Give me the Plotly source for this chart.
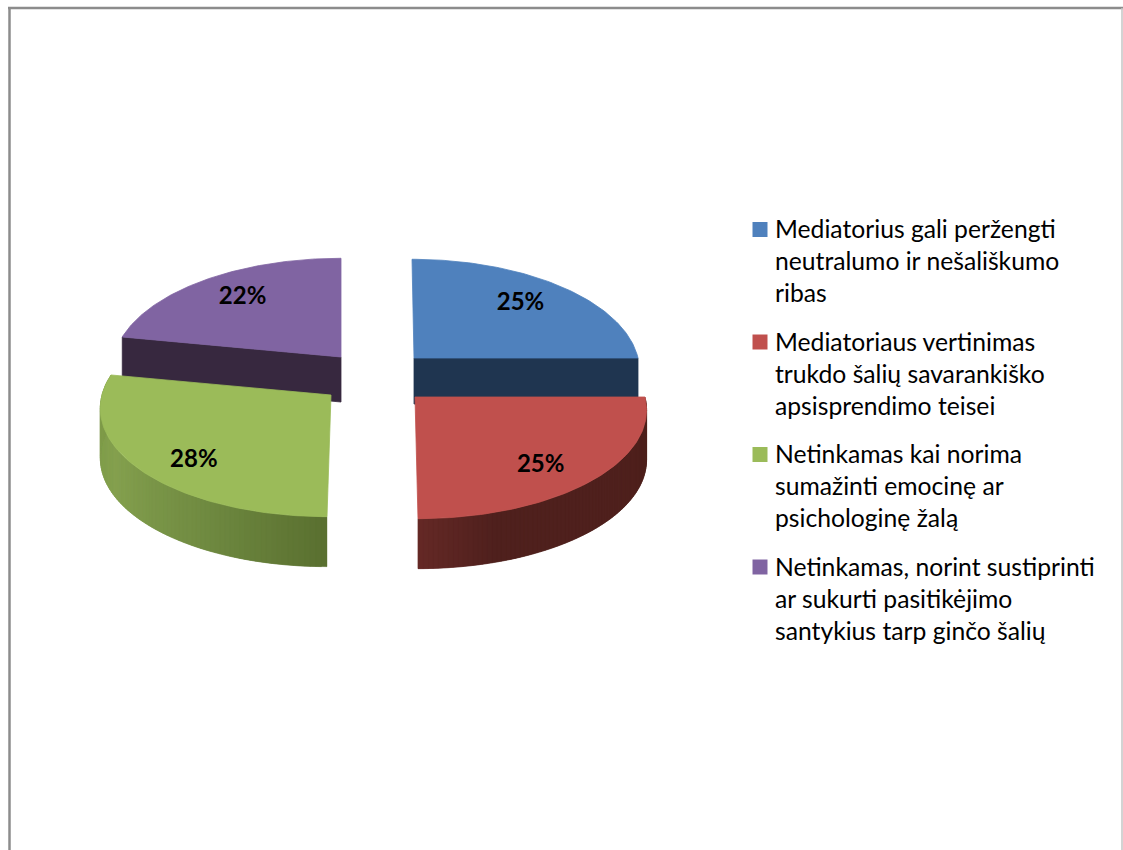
import numpy as np
import plotly.graph_objects as go

categories = [
    "Mediatorius gali peržengti<br>neutralumo ir nešališkumo<br>ribas",
    "Mediatoriaus vertinimas<br>trukdo šalių savarankiško<br>apsisprendimo teisei",
    "Netinkamas kai norima<br>sumažinti emocinę ar<br>psichologinę žalą",
    "Netinkamas, norint sustiprinti<br>ar sukurti pasitikėjimo<br>santykius tarp ginčo šalių",
]
values = [25, 25, 28, 22]
labels = ["25%", "25%", "28%", "22%"]
colors = ["#4f81bd", "#c0504d", "#9bbb59", "#8064a2"]

# 3D projection settings (pixel scale of the axes)
apex = [(414, 358), (415, 397), (331, 395), (341, 357)]
rx = [224, 230, 229, 227]
ry = [109, 109, 109, 109]
shear = [2, 3, -4, 0]
depth = [46, 50, 50, 45]
wall_color = ["#1f3550", None, None, "#37283f"]
PERSP = 0.104
label_shift = [(-5, 1), (-5, 8), (4, 11), (4, 0)]
LEGEND_SWATCH_X, LEGEND_TEXT_X, LEGEND_TOP, LEGEND_STEP = 760, 773.5, 229.5, 112.5
LEGEND_LINE = 31

edges = np.concatenate([[0], np.cumsum(values)]) / sum(values) * 2 * np.pi


def project(i, theta, z=0.0, f=1.0):
    theta = np.asarray(theta, dtype=float)
    w = 1 + PERSP * f * np.cos(theta)
    x = apex[i][0] + f * rx[i] * np.sin(theta) / w - shear[i] * np.cos(theta) * f
    y = apex[i][1] - f * ry[i] * np.cos(theta) / w + z
    return x, y


def poly(xs, ys, color, lw=0.8):
    return go.Scatter(
        x=list(xs) + [xs[0]], y=list(ys) + [ys[0]], mode="lines", fill="toself",
        fillcolor=color, line=dict(color=color, width=lw),
        hoverinfo="skip", showlegend=False,
    )


def mix(c1, c2, t):
    a = [int(c1[k:k + 2], 16) for k in (1, 3, 5)]
    b = [int(c2[k:k + 2], 16) for k in (1, 3, 5)]
    return "#%02x%02x%02x" % tuple(int(round(p + (q - p) * t)) for p, q in zip(a, b))


def top(i):
    th = np.linspace(edges[i], edges[i + 1], 90)
    x, y = project(i, th)
    return poly([apex[i][0]] + list(x), [apex[i][1]] + list(y), colors[i])


def radial_wall(i, theta):
    x, y = project(i, [theta])
    d = depth[i]
    ax, ay = apex[i]
    return poly([ax, x[0], x[0], ax], [ay, y[0], y[0] + d, ay + d], wall_color[i])


def side(i, stops, n=80):
    th = np.linspace(edges[i], edges[i + 1], n + 1)
    out = []
    for k in range(n):
        # each strip overlaps the next so no seams show
        seg = th[k:k + 3]
        x, y = project(i, seg)
        t = (th[k] - edges[i]) / (edges[i + 1] - edges[i])
        c = stops[-1][1]
        for (t0, c0), (t1, c1) in zip(stops[:-1], stops[1:]):
            if t0 <= t <= t1:
                c = mix(c0, c1, (t - t0) / (t1 - t0))
                break
        d = depth[i]
        xs = list(x) + list(x[::-1])
        ys = list(y) + list(y[::-1] + d)
        out.append(poly(xs, ys, c, lw=0.4))
    return out


fig = go.Figure()
# far slices first
fig.add_trace(radial_wall(3, edges[3]))
fig.add_trace(top(3))
fig.add_trace(radial_wall(0, edges[1]))
fig.add_trace(top(0))
# near slices
for tr in side(2, [(0, "#5a7030"), (0.3, "#718c42"), (0.6, "#84a04e"), (1, "#7d9a49")]):
    fig.add_trace(tr)
fig.add_trace(top(2))
for tr in side(1, [(0, "#4f201d"), (0.8, "#4f201d"), (1, "#652926")]):
    fig.add_trace(tr)
fig.add_trace(top(1))

# value labels
for i, lab in enumerate(labels):
    mid = (edges[i] + edges[i + 1]) / 2
    x, y = project(i, [mid], f=0.75)
    fig.add_trace(go.Scatter(
        x=[x[0] + label_shift[i][0]], y=[y[0] + label_shift[i][1]], mode="text", text=[lab],
        textposition="middle center",
        textfont=dict(family="Lato", size=24, color="black", weight="bold"),
        hoverinfo="skip", showlegend=False,
    ))

# legend swatches and texts
annotations = []
for i, name in enumerate(categories):
    y0 = LEGEND_TOP + LEGEND_STEP * i
    fig.add_trace(go.Scatter(
        x=[LEGEND_SWATCH_X], y=[y0], mode="markers", name=name.replace("<br>", " "),
        marker=dict(symbol="square", size=15, color=colors[i], line=dict(width=0)),
        showlegend=False, hoverinfo="name",
    ))
    annotations.append(dict(
        x=LEGEND_TEXT_X, y=y0 + LEGEND_LINE, xref="x", yref="y", text=name, showarrow=False,
        xanchor="left", yanchor="middle", align="left",
        font=dict(family="Lato", size=24.7, color="black"),
        borderpad=0,
    ))

fig.update_layout(
    width=1123, height=850,
    margin=dict(l=0, r=0, t=0, b=0),
    paper_bgcolor="white", plot_bgcolor="white",
    showlegend=False,
    xaxis=dict(range=[0, 1123], visible=False, fixedrange=True),
    yaxis=dict(range=[850, 0], visible=False, fixedrange=True),
    annotations=annotations,
    shapes=[
        dict(type="line", xref="paper", yref="paper", x0=9.5 / 1123, x1=9.5 / 1123, y0=0, y1=1 - 7 / 850,
             line=dict(color="#8c8c8c", width=2.5)),
        dict(type="line", xref="paper", yref="paper", x0=8 / 1123, x1=1, y0=1 - 8 / 850, y1=1 - 8 / 850,
             line=dict(color="#8c8c8c", width=2.5)),
        dict(type="line", xref="paper", yref="paper", x0=1122 / 1123, x1=1122 / 1123, y0=0, y1=1 - 8 / 850,
             line=dict(color="#c4c4c4", width=1.5)),
    ],
)

fig.write_html(
    "out.html",
    config={"displayModeBar": False},
    post_script="document.body.style.margin='0';document.body.style.overflow='hidden';",
)
